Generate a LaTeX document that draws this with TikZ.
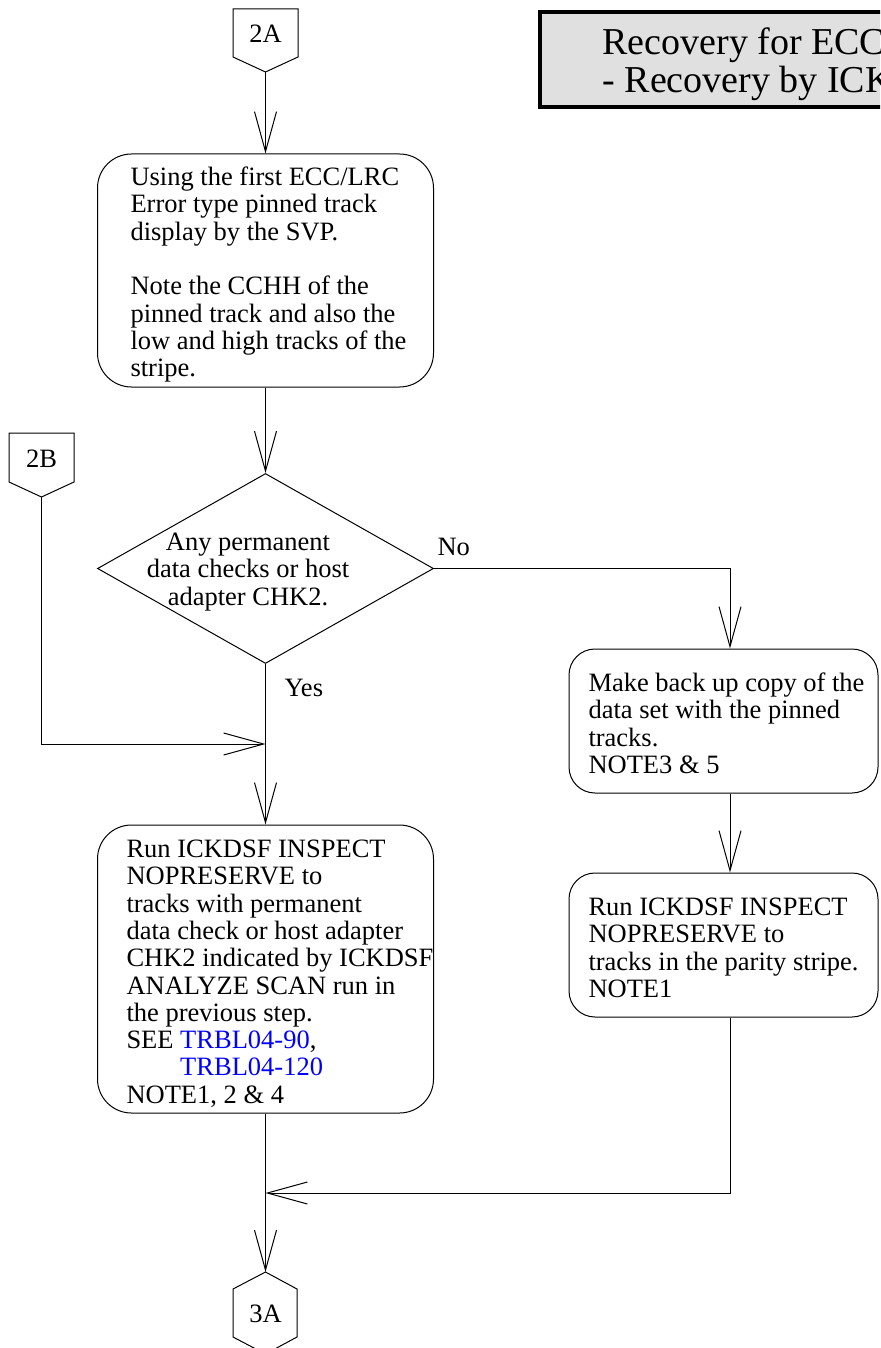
\documentclass[tikz,border=0pt]{standalone}
\usepackage{fontspec}
\setmainfont{Liberation Serif}
\usetikzlibrary{arrows.meta,shapes.geometric}
\definecolor{linkblue}{RGB}{0,0,255}
\definecolor{titlegray}{RGB}{224,224,224}
\newcommand\bodysize{\fontsize{26.5}{27.3}\selectfont}
\newcommand\titlesize{\fontsize{38}{35}\selectfont}
\begin{document}
\begin{tikzpicture}[x=1pt,y=-1pt,line width=1pt,
  flow/.style={draw,-{Straight Barb[length=40pt,width=22pt]}},
  procbox/.style={draw,inner sep=0pt},
  txt/.style={font=\bodysize,align=left,anchor=north west,inner sep=0pt},
  lbl/.style={font=\bodysize,inner sep=0pt,anchor=base},
  ]
\clip (0,0) rectangle (880,1348);
% title
\node[draw,line width=4pt,fill=titlegray,minimum width=500pt,minimum height=95pt,anchor=north west,inner sep=0pt] (title) at (538,10) {};
\node[font=\titlesize,align=left,anchor=north west,inner sep=0pt] (ttext) at (602,27.2) {\strut Recovery for ECC\\- Recovery by ICK};
% off-page connector 2A
\draw (233,9) -- (298,9) -- (298,57) -- (265.5,72) -- (233,57) -- cycle;
\coordinate (p2Atip) at (265.5,72);
\node[lbl] (l2A) at (265.5,43) {2A};
% off-page connector 2B
\draw (9,433) -- (74,433) -- (74,482) -- (41.5,497) -- (9,482) -- cycle;
\coordinate (p2Btip) at (41.5,497);
\node[lbl] (l2B) at (41.5,467) {2B};
% off-page connector 3A
\draw (265.5,1272) -- (297,1289) -- (297,1337) -- (265.5,1354) -- (233,1337) -- (233,1289) -- cycle;
\coordinate (p3Atip) at (265.5,1272);
\node[lbl] (l3A) at (265.5,1322) {3A};
% boxes
\node[procbox,rounded corners=34pt,minimum width=336pt,minimum height=233pt] (b1) at (265.5,270.5) {};
\node[txt] (t1) at (130,165.9) {\strut Using the first ECC/LRC\\Error type pinned track\\display by the SVP.\\[27.3pt]Note the CCHH of the\\pinned track and also the\\low and high tracks of the\\stripe.};
\node[draw,diamond,minimum width=336pt,minimum height=190pt,inner sep=0pt] (d) at (265.5,568.5) {};
\node[font=\bodysize,align=center,anchor=north,inner sep=0pt] (td) at (248,530.9) {\strut Any permanent\\data checks or host\\adapter CHK2.};
\node[lbl,anchor=base west] (lno) at (437,555) {No};
\node[lbl,anchor=base west] (lyes) at (284,696) {Yes};
\node[procbox,rounded corners=34pt,minimum width=336pt,minimum height=288pt] (b2) at (265.5,969) {};
\node[txt] (t2) at (126,837.9) {\strut Run ICKDSF INSPECT\\NOPRESERVE to\\tracks with permanent\\data check or host adapter\\CHK2 indicated by ICKDSF\\ANALYZE SCAN run in\\the previous step.\\SEE \textcolor{linkblue}{TRBL04-90},\\\phantom{SEE }\textcolor{linkblue}{TRBL04-120}\\NOTE1, 2 \& 4};
\node[procbox,rounded corners=26pt,minimum width=309pt,minimum height=144pt] (b3) at (723.5,721) {};
\node[txt] (t3) at (588,671.9) {\strut Make back up copy of the\\data set with the pinned\\tracks.\\NOTE3 \& 5};
\node[procbox,rounded corners=26pt,minimum width=309pt,minimum height=144pt] (b4) at (723.5,945) {};
\node[txt] (t4) at (588,895.9) {\strut Run ICKDSF INSPECT\\NOPRESERVE to\\tracks in the parity stripe.\\NOTE1};
% connection points
\path (b3.north) ++(6.5,0) coordinate (b3in);
\path (b3.south) ++(6.5,0) coordinate (b3out);
\path (b4.north) ++(6.5,0) coordinate (b4in);
\path (b4.south) ++(6.5,0) coordinate (b4out);
\coordinate (j1) at (265.5,744);
\coordinate (j2) at (265.5,1193);
% connectors
\draw[flow] (p2Atip) -- (b1.north);
\draw[flow] (b1.south) -- (d.north);
\draw[flow] (d.east) -| (b3in);
\draw[flow] (d.south) -- (b2.north);
\draw[flow] (p2Btip) |- (j1);
\draw[flow] (b3out) -- (b4in);
\draw[flow] (b4out) |- (j2);
\draw[flow] (b2.south) -- (p3Atip);
\end{tikzpicture}
\end{document}
